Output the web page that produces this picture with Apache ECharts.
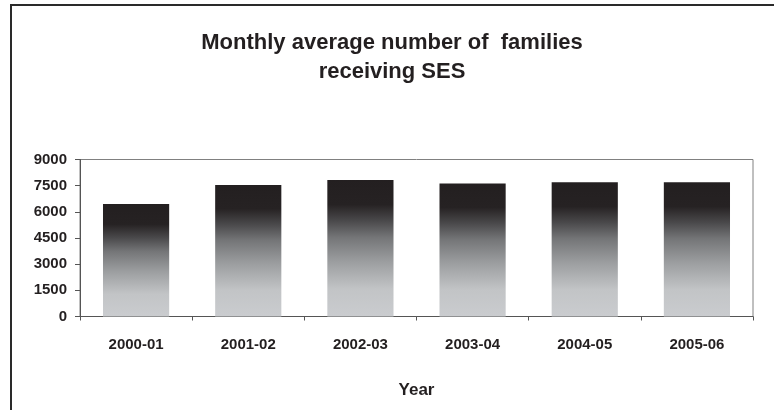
<!DOCTYPE html>
<html>
<head>
<meta charset="utf-8">
<script src="https://cdn.jsdelivr.net/npm/echarts@6/dist/echarts.min.js"></script>
<style>
html,body{margin:0;padding:0;background:#fff;}
#chart{width:774px;height:410px;}
</style>
</head>
<body>
<div id="chart"></div>
<script>
var categories = ['2000-01', '2001-02', '2002-03', '2003-04', '2004-05', '2005-06'];
var families = [6450, 7540, 7830, 7630, 7690, 7690];
var yTicks = [0, 1500, 3000, 4500, 6000, 7500, 9000];

var chart = echarts.init(document.getElementById('chart'), null, {renderer: 'canvas'});
var txt = '#231f20';
var ff = '"Liberation Sans", Arial, sans-serif';
chart.setOption({
  backgroundColor: '#ffffff',
  animation: false,
  title: {
    text: 'Monthly average number of  families\nreceiving SES',
    left: 387, top: 23, textAlign: 'center',
    textStyle: {color: txt, fontFamily: ff, fontWeight: 'bold', fontSize: 22, lineHeight: 29}
  },
  graphic: [
    {type: 'line', shape: {x1: 10, y1: 5, x2: 774, y2: 5}, style: {stroke: '#2a2a2a', lineWidth: 2}},
    {type: 'line', shape: {x1: 11, y1: 4, x2: 11, y2: 410}, style: {stroke: '#2a2a2a', lineWidth: 2}}
  ],
  grid: {left: 80, right: 21, top: 159.5, bottom: 93.5, show: true, borderColor: '#808080', borderWidth: 1},
  xAxis: {
    type: 'category', data: categories,
    name: 'Year', nameLocation: 'middle', nameGap: 65,
    nameTextStyle: {color: txt, fontFamily: ff, fontWeight: 'bold', fontSize: 17},
    axisLine: {lineStyle: {color: '#555', width: 1}},
    axisTick: {show: true, length: 4, alignWithLabel: false, lineStyle: {color: '#555'}},
    axisLabel: {color: txt, fontFamily: ff, fontWeight: 'bold', fontSize: 15, margin: 21}
  },
  yAxis: {
    type: 'value', min: yTicks[0], max: yTicks[yTicks.length - 1], interval: yTicks[1] - yTicks[0],
    axisLine: {show: true, lineStyle: {color: '#555', width: 1}},
    axisTick: {show: true, length: 5, lineStyle: {color: '#555'}},
    splitLine: {show: false},
    axisLabel: {color: txt, fontFamily: ff, fontWeight: 'bold', fontSize: 15, margin: 13,
      formatter: function (v) { return String(v); }}
  },
  series: [{
    type: 'bar', data: families, barWidth: '59%',
    itemStyle: {
      color: new echarts.graphic.LinearGradient(0, 0, 0, 1, [
        {offset: 0, color: '#231f20'},
        {offset: 0.18, color: '#262223'},
        {offset: 0.3, color: '#4a494b'},
        {offset: 0.42, color: '#747577'},
        {offset: 0.6, color: '#9c9ea0'},
        {offset: 0.8, color: '#c2c4c6'},
        {offset: 1, color: '#cacccf'}
      ])
    }
  }]
});
</script>
</body>
</html>
